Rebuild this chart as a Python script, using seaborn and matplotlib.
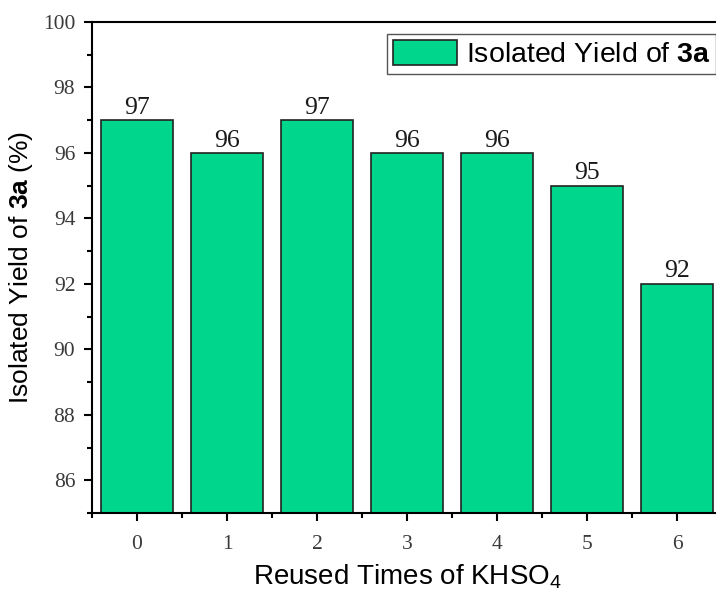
import matplotlib
matplotlib.use('Agg')
import matplotlib.pyplot as plt
from matplotlib.ticker import MultipleLocator, FixedLocator
import seaborn as sns
import pandas as pd

# data
reuse_times = ['0', '1', '2', '3', '4', '5', '6']
yields = [97, 96, 97, 96, 96, 95, 92]

sns.set_style('ticks')
plt.rcParams['font.family'] = ['Liberation Sans', 'DejaVu Sans']
plt.rcParams['mathtext.fontset'] = 'custom'
plt.rcParams['mathtext.rm'] = 'Liberation Sans'
plt.rcParams['mathtext.bf'] = 'Liberation Sans:bold'
plt.rcParams['mathtext.it'] = 'Liberation Sans:italic'
plt.rcParams['text.color'] = 'black'
plt.rcParams['axes.labelcolor'] = 'black'

df = pd.DataFrame({'times': reuse_times, 'yield': yields})

fig = plt.figure(figsize=(7.16, 5.9), dpi=100)
# axes runs a little past the right edge, like the cropped original
ax = fig.add_axes([92 / 716, 1 - 513 / 590, 630 / 716, 491 / 590])

sns.barplot(data=df, x='times', y='yield', color='#00D68C', saturation=1,
            width=0.8, edgecolor='#222222', linewidth=1.2, ax=ax,
            label=r'Isolated Yield of $\mathbf{3a}$')

ax.set_ylim(85, 100)
ax.set_xlim(-0.5, 6.5)
ax.yaxis.set_major_locator(MultipleLocator(2))
ax.yaxis.set_minor_locator(MultipleLocator(1))
ax.xaxis.set_minor_locator(FixedLocator([i - 0.5 for i in range(8)]))

for s in ['left', 'bottom', 'top']:
    ax.spines[s].set_linewidth(1.5)
    ax.spines[s].set_color('black')
ax.spines['right'].set_visible(False)

ax.tick_params(which='major', direction='out', length=6, width=1.5,
               color='black', labelsize=15.5, labelcolor='#3a3a3a')
ax.tick_params(which='minor', direction='out', length=3.5, width=1.5,
               color='black')
ax.tick_params(axis='x', which='major', pad=10)
ax.tick_params(axis='y', which='major', pad=6)
for lab in ax.get_xticklabels() + ax.get_yticklabels():
    lab.set_fontfamily('Liberation Serif')

ax.bar_label(ax.containers[0], fmt='%d', padding=1, fontsize=18.5,
             family='Liberation Serif', color='#1a1a1a')

ax.set_xlabel(r'Reused Times of KHSO$_4$', fontsize=20, labelpad=6)
ax.set_ylabel(r'Isolated Yield of $\mathbf{3a}$ (%)', fontsize=19, labelpad=6)

leg = ax.legend(loc='upper right', bbox_to_anchor=(1.0, 1 - 34 / 590),
                bbox_transform=fig.transFigure, borderaxespad=0,
                fontsize=20.5, frameon=True, fancybox=False, framealpha=1,
                edgecolor='#555555', handlelength=2.25, handleheight=1.0,
                borderpad=0.2, handletextpad=0.3)
leg.get_frame().set_linewidth(1.0)

fig.savefig('out.png', dpi=100)
